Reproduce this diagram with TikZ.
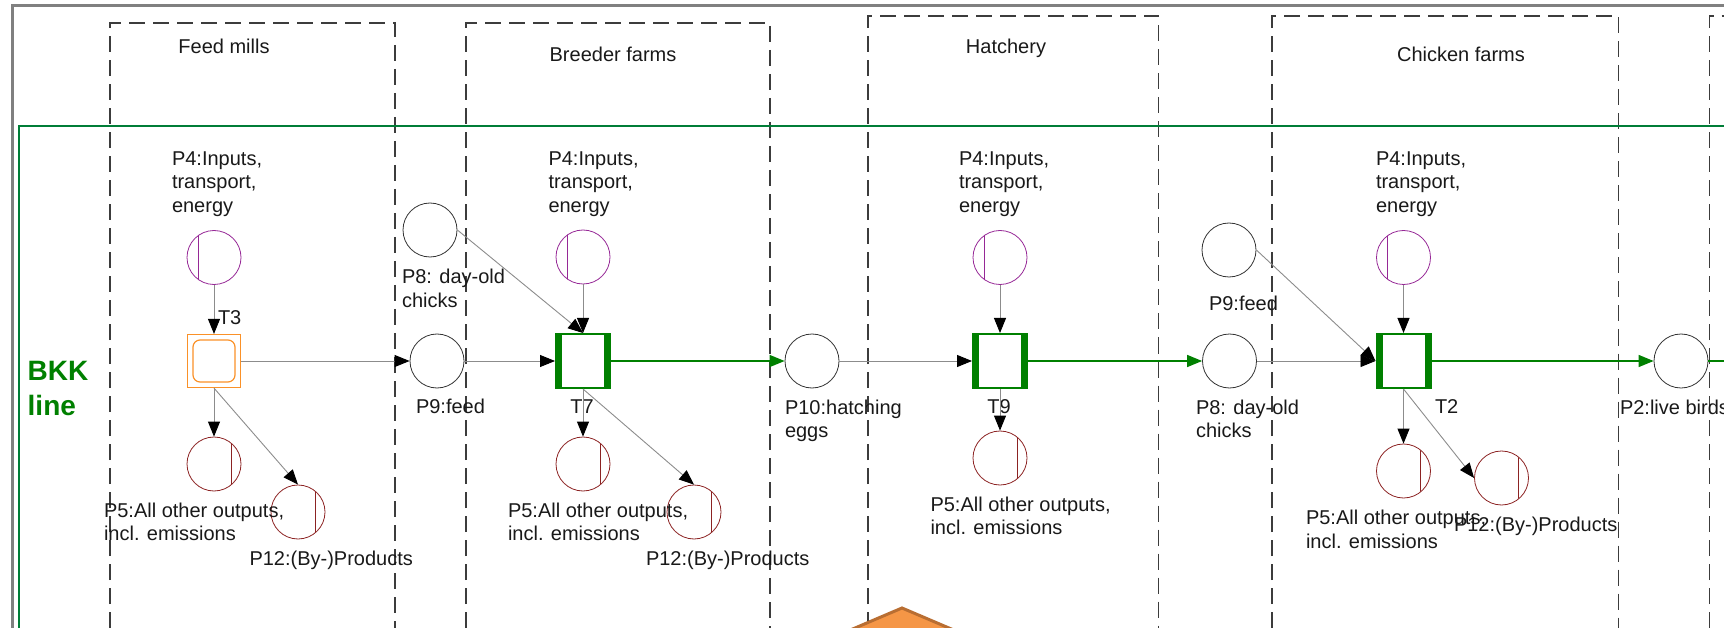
\documentclass[tikz,border=0pt]{standalone}
\usepackage{fontspec}
\setmainfont{Liberation Sans}
\usetikzlibrary{arrows.meta}
\definecolor{pnGreen}{RGB}{0,128,0}
\definecolor{frameGreen}{RGB}{0,125,55}
\definecolor{pnPurple}{RGB}{150,40,150}
\definecolor{pnRed}{RGB}{140,35,35}
\definecolor{pnOrange}{RGB}{250,145,40}
\definecolor{lineGray}{RGB}{140,140,140}
\definecolor{frameGray}{RGB}{128,128,128}
\definecolor{dashGray}{RGB}{60,60,60}
\definecolor{diaFill}{RGB}{245,150,70}
\definecolor{diaDraw}{RGB}{185,110,50}
\begin{document}
\begin{tikzpicture}[x=1pt,y=-1pt,
  lbl/.style={font=\fontsize{20}{23.5}\selectfont, inner sep=0pt, outer sep=0pt, align=left, anchor=north west, text=black!90},
  ttl/.style={font=\fontsize{20}{23.5}\selectfont, inner sep=0pt, anchor=base, text=black!90},
  place/.style={circle, minimum size=54pt, inner sep=0pt, draw=black!80, line width=0.8pt},
  inplace/.style={place, draw=pnPurple, path picture={\draw[pnPurple, line width=0.9pt] ([xshift=-16pt]path picture bounding box.center) ++(0,-30pt) -- ++(0,60pt);}},
  outplace/.style={place, draw=pnRed, path picture={\draw[pnRed, line width=0.9pt] ([xshift=17pt]path picture bounding box.center) ++(0,-30pt) -- ++(0,60pt);}},
  trans/.style={rectangle, minimum width=54pt, minimum height=54pt, inner sep=0pt, draw=pnGreen, line width=2pt, fill=white,
    path picture={\fill[pnGreen] (path picture bounding box.north west) rectangle ([xshift=6pt]path picture bounding box.south west);
                  \fill[pnGreen] (path picture bounding box.north east) rectangle ([xshift=-6pt]path picture bounding box.south east);}},
  otrans/.style={rectangle, minimum size=53pt, inner sep=0pt, draw=pnOrange, line width=1.2pt,
    path picture={\draw[pnOrange, line width=1.2pt, rounded corners=7pt] ([xshift=5.5pt,yshift=-5.5pt]path picture bounding box.north west) rectangle ([xshift=-5.5pt,yshift=5.5pt]path picture bounding box.south east);}},
  arr/.style={draw=lineGray, line width=0.9pt, -{Triangle[length=15pt,width=12pt,color=black]}},
  garr/.style={draw=pnGreen, line width=1.3pt, -{Triangle[length=15pt,width=12pt,color=pnGreen]}},
  dbox/.style={draw=dashGray, line width=1.3pt, dash pattern=on 16pt off 8pt}
]
\useasboundingbox (0,0) rectangle (1724,628);

% stage boxes
\draw[dbox] (110,700) -- (110,23) -- (395,23) -- (395,700);
\draw[dbox] (466,700) -- (466,23) -- (770,23) -- (770,700);
\draw[dbox] (868,700) -- (868,16) -- (1158.5,16) -- (1158.5,700);
\draw[dbox] (1272,700) -- (1272,16) -- (1618.5,16) -- (1618.5,700);
\draw[dbox] (1709.5,700) -- (1709.5,16) -- (1800,16);

\node[ttl] (tfeed) at (224,54) {Feed mills};
\node[ttl] (tbreed) at (613,61.5) {Breeder farms};
\node[ttl] (thatch) at (1006,54) {Hatchery};
\node[ttl] (tchick) at (1461,61.5) {Chicken farms};

% frames
\draw[frameGray, line width=3pt] (12,700) -- (12,6) -- (1800,6);
\draw[frameGreen, line width=2pt] (19,700) -- (19,126) -- (1800,126);

\node[font=\bfseries\fontsize{28}{35}\selectfont, text=pnGreen, align=left, anchor=north west, inner sep=0pt] (bkk) at (27.5,361.5) {BKK\\line};

% orange diamond (partly visible)
\draw[diaDraw, fill=diaFill, line width=3pt] (902,608) -- (1010,654) -- (902,700) -- (794,654) -- cycle;

% Feed mills
\node[inplace] (p4a) at (214,257.5) {};
\node[otrans] (t3) at (214,361) {};
\node[outplace] (p5a) at (214,464) {};
\node[outplace] (p12a) at (298,512) {};
\node[place] (p9a) at (437,361) {};
\node[place] (p8a) at (430,230) {};

% Breeder farms
\node[inplace] (p4b) at (583,257) {};
\node[trans] (t7) at (583,361) {};
\node[outplace] (p5b) at (583,464) {};
\node[outplace] (p12b) at (694,512) {};
\node[place] (p10) at (812,361) {};

% Hatchery
\node[inplace] (p4c) at (1000,257.5) {};
\node[trans] (t9) at (1000,361) {};
\node[outplace] (p5c) at (1000,458) {};

% Chicken farms
\node[place] (p8b) at (1229.5,361) {};
\node[place] (p9b) at (1229,250) {};
\node[inplace] (p4d) at (1403.5,257.5) {};
\node[trans] (t2) at (1403.5,361) {};
\node[outplace] (p5d) at (1403.5,471) {};
\node[outplace] (p12d) at (1501.5,478) {};
\node[place] (p2) at (1681,361) {};
\coordinate (offr) at (1800,361);

% labels
\node[lbl] (lp4a) at (172,151.5) {P4:Inputs,\\transport,\\energy};
\node[lbl] (lp4b) at (548.5,151.5) {P4:Inputs,\\transport,\\energy};
\node[lbl] (lp4c) at (959,151.5) {P4:Inputs,\\transport,\\energy};
\node[lbl] (lp4d) at (1376,151.5) {P4:Inputs,\\transport,\\energy};
\node[lbl] (lp8a) at (402,269.5) {P8: day-old\\chicks};
\node[lbl] (lp9a) at (416,399.3) {P9:feed};
\node[lbl] (lt3) at (218,310.5) {T3};
\node[lbl] (lp5a) at (104,503) {P5:All other outputs,\\incl. emissions};
\node[lbl] (lp12a) at (249.5,551.5) {P12:(By-)Products};
\node[lbl, anchor=north] (lt7) at (582,399.5) {T7};
\node[lbl] (lp5b) at (508,503) {P5:All other outputs,\\incl. emissions};
\node[lbl] (lp12b) at (646,551.5) {P12:(By-)Products};
\node[lbl] (lp10) at (785,400) {P10:hatching\\eggs};
\node[lbl, anchor=north] (lt9) at (999,399.5) {T9};
\node[lbl] (lp5c) at (930.5,497) {P5:All other outputs,\\incl. emissions};
\node[lbl] (lp8b) at (1196,400) {P8: day-old\\chicks};
\node[lbl] (lp9b) at (1209,296) {P9:feed};
\node[lbl] (lt2) at (1435,400) {T2};
\node[lbl] (lp5d) at (1306,510.5) {P5:All other outputs,\\incl. emissions};
\node[lbl] (lp12d) at (1454,517.5) {P12:(By-)Products};
\node[lbl] (lp2) at (1620,400) {P2:live birds};

% arcs
\draw[arr] (p4a.south) -- (t3.north);
\draw[arr] (t3.south) -- (p5a.north);
\draw[arr] (t3.south) -- (p12a.north);
\draw[arr] (t3.east) -- (p9a.west);
\draw[arr] (p9a.east) -- (t7.west);
\draw[arr] (p8a.east) -- (t7.north);
\draw[arr] (p4b.south) -- (t7.north);
\draw[arr] (t7.south) -- (p5b.north);
\draw[arr] (t7.south) -- (p12b.north);
\draw[garr] (t7.east) -- (p10.west);
\draw[arr] (p10.east) -- (t9.west);
\draw[arr] (p4c.south) -- (t9.north);
\draw[arr] (t9.south) -- (p5c.north);
\draw[garr] (t9.east) -- (p8b.west);
\draw[arr] (p8b.east) -- (t2.west);
\draw[arr] (p9b.east) -- (t2.west);
\draw[arr] (p4d.south) -- (t2.north);
\draw[arr] (t2.south) -- (p5d.north);
\draw[arr] (t2.south) -- (p12d.west);
\draw[garr] (t2.east) -- (p2.west);
\draw[pnGreen, line width=1.3pt] (p2.east) -- (offr);
\end{tikzpicture}
\end{document}
